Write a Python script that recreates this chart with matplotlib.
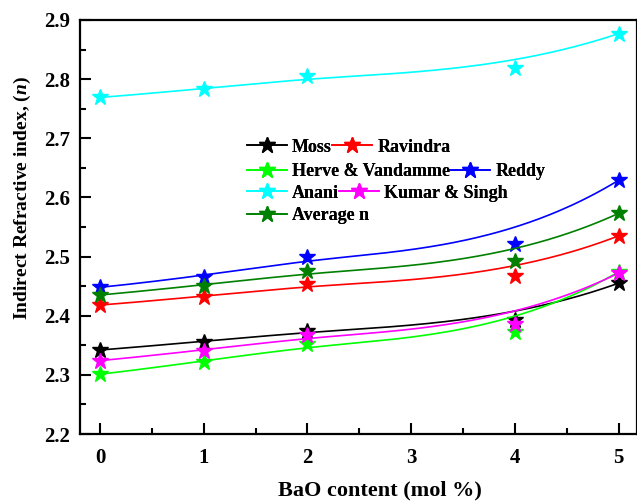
import numpy as np
import matplotlib
matplotlib.use('Agg')
import matplotlib.pyplot as plt
from matplotlib.ticker import MultipleLocator

plt.rcParams['font.family'] = ['Liberation Serif', 'DejaVu Serif']
plt.rcParams['font.weight'] = 'bold'
plt.rcParams['mathtext.fontset'] = 'custom'
plt.rcParams['mathtext.it'] = 'Liberation Serif:italic:bold'
plt.rcParams['mathtext.rm'] = 'Liberation Serif:bold'

# BaO content (mol %)
bao = [0, 1, 2, 4, 5]

moss = [2.342, 2.356, 2.375, 2.392, 2.455]
ravindra = [2.418, 2.432, 2.454, 2.467, 2.535]
herve = [2.301, 2.322, 2.353, 2.373, 2.474]
reddy = [2.448, 2.466, 2.500, 2.522, 2.629]
anani = [2.769, 2.783, 2.805, 2.818, 2.877]
kumar = [2.324, 2.341, 2.367, 2.386, 2.472]
average = [2.435, 2.451, 2.476, 2.493, 2.573]

names = ['Moss', 'Ravindra', 'Herve & Vandamme', 'Reddy', 'Anani', 'Kumar & Singh', 'Average n']
series = [moss, ravindra, herve, reddy, anani, kumar, average]
colors = ['black', 'red', '#00ff00', 'blue', 'cyan', 'magenta', '#008000']


def bspline(px, py, deg=3, num=300):
    # clamped B-spline through the points as control points (Origin style "B-Spline" connect)
    px = np.asarray(px, float)
    py = np.asarray(py, float)
    n = len(px)
    knots = np.concatenate([np.zeros(deg), np.linspace(0, 1, n - deg + 1), np.ones(deg)])
    t = np.linspace(0, 1, num)
    t[-1] -= 1e-9
    N = np.zeros((num, len(knots) - 1))
    for i in range(len(knots) - 1):
        N[:, i] = (knots[i] <= t) & (t < knots[i + 1])
    for k in range(1, deg + 1):
        Nn = np.zeros((num, len(knots) - 1 - k))
        for i in range(len(knots) - 1 - k):
            a = knots[i + k] - knots[i]
            b = knots[i + k + 1] - knots[i + 1]
            left = (t - knots[i]) / a * N[:, i] if a > 0 else 0
            right = (knots[i + k + 1] - t) / b * N[:, i + 1] if b > 0 else 0
            Nn[:, i] = left + right
        N = Nn
    return N @ px, N @ py


fig = plt.figure(figsize=(6.37, 5.03), dpi=100)
ax = fig.add_axes([80 / 637, 1 - 434 / 503, 556.7 / 637, 414 / 503])

handles = {}
for name, vals, c in zip(names, series, colors):
    cx, cy = bspline(bao, vals)
    ax.plot(cx, cy, color=c, lw=1.2)
    ax.plot(bao, vals, linestyle='none', marker='*', ms=12, color=c)
    handles[name] = ax.plot([], [], color=c, lw=1.2, marker='*', ms=12)[0]

ax.set_xlim(-0.193, 5.175)
ax.set_ylim(2.2, 2.9)
ax.xaxis.set_major_locator(MultipleLocator(1))
ax.xaxis.set_minor_locator(MultipleLocator(0.5))
ax.yaxis.set_major_locator(MultipleLocator(0.1))
ax.yaxis.set_minor_locator(MultipleLocator(0.05))
ax.tick_params(which='both', direction='in', width=1.5, top=False, right=False)
ax.tick_params(which='major', length=8, labelsize=15)
ax.tick_params(which='minor', length=4.5)
ax.tick_params(axis='x', pad=10)
ax.tick_params(axis='y', pad=7)
for s in ax.spines.values():
    s.set_linewidth(1.6)

ax.set_xlabel('BaO content (mol %)', fontsize=16, fontweight='bold')
ax.xaxis.set_label_coords((380 - 80) / 556.7, -(490 - 434) / 414)
ax.xaxis.label.set_va('center')
ax.set_ylabel('Indirect Refractive index, ($\\mathit{n}$)', fontsize=14, fontweight='bold')
ax.yaxis.set_label_coords(-(80 - 22) / 556.7, (434 - 198) / 414)
ax.yaxis.label.set_va('center')

# legend rows, laid out like the original (two entries per row)
rows = [['Moss', 'Ravindra'], ['Herve & Vandamme', 'Reddy'],
        ['Anani', 'Kumar & Singh'], ['Average n']]
row_y = [147, 171.5, 193, 216]
for r, y in zip(rows, row_y):
    leg = fig.legend([handles[n] for n in r], r, loc='center left',
                     bbox_to_anchor=(247 / 637, 1 - y / 503), ncol=len(r),
                     frameon=False, borderpad=0, borderaxespad=0,
                     handlelength=2.2, handletextpad=0.3, columnspacing=0.0,
                     prop={'weight': 'bold', 'size': 13})
    fig.add_artist(leg)

fig.savefig('out.png', dpi=100)
